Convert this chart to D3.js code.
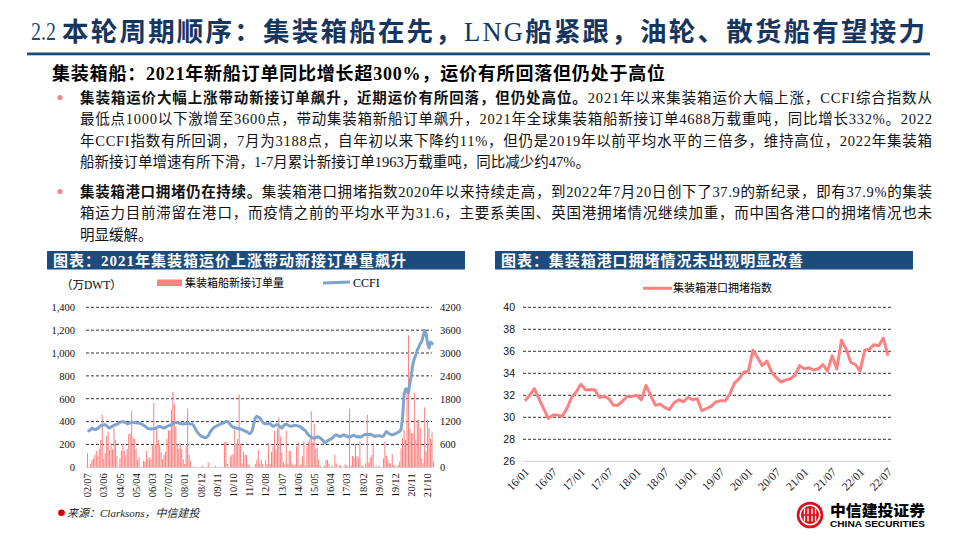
<!DOCTYPE html>
<html>
<head>
<meta charset="utf-8">
<script src="https://cdn.jsdelivr.net/npm/d3@7"></script>
<style>
  body { margin: 0; background: #fff; }
  svg { display: block; }
</style>
</head>
<body>
<svg id="page" width="960" height="540"></svg>
<script>
// ---- data ----
// monthly new container ship orders, 10k DWT, from 2002/07
var orderValues = [
  123, 0, 29, 65, 76, 109, 144, 100, 161, 240, 461, 73,
  123, 276, 314, 153, 211, 158, 343, 240, 100, 0, 79, 144,
  202, 144, 109, 161, 293, 293, 496, 258, 249, 161, 65, 88,
  0, 0, 56, 50, 144, 73, 88, 70, 191, 563, 202, 335,
  240, 197, 132, 70, 109, 138, 249, 323, 320, 505, 660, 555,
  349, 202, 161, 211, 161, 70, 29, 182, 514, 109, 56, 6,
  0, 0, 0, 0, 0, 0, 15, 0, 0, 0, 44, 0,
  0, 0, 0, 12, 0, 0, 0, 0, 0, 220, 220, 29,
  0, 94, 109, 117, 329, 202, 247, 637, 205, 35, 132, 109,
  109, 29, 15, 0, 0, 0, 29, 65, 153, 29, 65, 29,
  0, 65, 29, 211, 29, 132, 182, 320, 153, 343, 437, 270,
  129, 50, 26, 320, 35, 144, 144, 35, 15, 26, 182, 226,
  15, 26, 94, 226, 15, 182, 226, 250, 490, 220, 380, 160,
  173, 70, 15, 0, 0, 15, 65, 65, 35, 0, 15, 0,
  109, 35, 0, 15, 20, 0, 0, 26, 15, 0, 514, 15,
  100, 85, 202, 100, 85, 226, 15, 15, 0, 35, 461, 41,
  85, 109, 197, 0, 15, 0, 15, 0, 0, 79, 226, 100,
  65, 35, 35, 117, 20, 15, 0, 20, 50, 167, 255, 329,
  240, 687, 1156, 338, 299, 299, 652, 240, 417, 417, 343, 79,
  35, 525, 138, 417, 343, 250, 305, 50
];

// monthly CCFI, same months
var ccfiValues = [
  940, 960, 990, 1030, 1010, 990, 1000, 1020, 1060, 1090, 1100, 1110,
  1120, 1090, 1050, 1030, 1060, 1080, 1100, 1120, 1130, 1150, 1180, 1195,
  1197, 1190, 1170, 1145, 1150, 1170, 1180, 1180, 1175, 1165, 1160, 1160,
  1150, 1130, 1100, 1080, 1050, 1020, 1010, 1005, 1010, 1015, 1020, 1040,
  1060, 1075, 1060, 1040, 1030, 1050, 1070, 1090, 1100, 1120, 1150, 1170,
  1180, 1170, 1160, 1150, 1140, 1135, 1140, 1150, 1150, 1145, 1140, 1135,
  1100, 1030, 960, 900, 860, 825, 800, 790, 780, 790, 830, 900,
  967, 1010, 1050, 1070, 1090, 1110, 1130, 1145, 1160, 1180, 1200, 1205,
  1180, 1120, 1075, 1050, 1040, 1030, 1020, 1010, 1005, 990, 970, 950,
  940, 910, 880, 900, 990, 1150, 1300, 1337, 1320, 1295, 1240, 1190,
  1150, 1140, 1145, 1150, 1145, 1110, 1075, 1090, 1110, 1120, 1090, 1060,
  1030, 1080, 1120, 1135, 1110, 1090, 1075, 1085, 1095, 1100, 1095, 1085,
  1075, 1050, 1020, 990, 960, 900, 853, 820, 790, 770, 765, 780,
  800, 790, 770, 740, 700, 650, 660, 690, 720, 740, 760, 790,
  840, 853, 830, 815, 810, 830, 850, 840, 820, 800, 792, 810,
  830, 840, 820, 800, 810, 790, 800, 830, 850, 860, 868, 860,
  868, 850, 830, 810, 820, 825, 830, 820, 810, 820, 880, 940,
  910, 880, 860, 850, 860, 880, 900, 920, 940, 1000, 1300, 1900,
  2050, 2060, 1950, 2200, 2450, 2700, 2850, 2950, 3080, 3150, 3250, 3300,
  3450, 3590, 3500, 3250, 3130, 3290, 3250, 3230
];

var leftTickLabels = ["02/07", "03/06", "04/05", "05/04", "06/03", "07/02", "08/01", "08/12",
  "09/11", "10/10", "11/09", "12/08", "13/07", "14/06", "15/05", "16/04", "17/03", "18/02",
  "19/01", "19/12", "20/11", "21/10"];
var leftAxisTicks = [0, 200, 400, 600, 800, 1000, 1200, 1400];
var rightAxisTicks = [0, 600, 1200, 1800, 2400, 3000, 3600, 4200];

// container port congestion index, monthly from 2016/01
var congestion = [
  31.5, 32.0, 32.6, 31.7, 30.8, 29.9, 30.2, 30.2, 30.1, 30.8,
  31.8, 32.3, 33.0, 32.5, 32.5, 32.5, 31.8, 31.9, 31.7, 31.1,
  31.1, 31.5, 31.9, 31.9, 32.0, 31.6, 32.9, 32.0, 31.1, 31.2,
  30.9, 30.7, 31.3, 31.6, 31.4, 31.8, 31.6, 31.7, 30.6, 30.8,
  31.0, 31.4, 31.5, 31.5, 32.1, 33.1, 33.5, 34.1, 34.2, 36.1,
  35.4, 34.7, 35.1, 34.1, 33.6, 33.2, 33.4, 33.5, 33.8, 34.7,
  34.4, 34.5, 34.3, 34.4, 34.8, 34.2, 35.6, 34.4, 37.0, 36.2,
  35.0, 34.8, 34.2, 36.1, 36.2, 36.6, 36.5, 37.2, 35.6
];
var congTickLabels = ["16/01", "16/07", "17/01", "17/07", "18/01", "18/07", "19/01",
  "19/07", "20/01", "20/07", "21/01", "21/07", "22/01", "22/07"];
var congAxisTicks = [26, 28, 30, 32, 34, 36, 38, 40];

// ---- helpers ----
function monthLabels(year, month, count) {
  var out = [];
  for (var i = 0; i < count; i++) {
    var y = year + Math.floor((month - 1 + i) / 12);
    var m = (month - 1 + i) % 12 + 1;
    out.push(String(y % 100).padStart(2, "0") + "/" + String(m).padStart(2, "0"));
  }
  return out;
}

var NAVY = "#1d4c7c";
var BAR = "#ff8080";
var CCFI_BLUE = "#7fa4cd";
var SERIF = "'Liberation Serif','Noto Sans CJK SC',serif";
var SANS = "'Noto Sans CJK SC','Liberation Sans',sans-serif";

var svg = d3.select("#page");

// ---- page title ----
svg.append("text")
  .attr("x", 31).attr("y", 40)
  .attr("textLength", 25).attr("lengthAdjust", "spacingAndGlyphs")
  .style("font-family", SERIF).style("font-size", "26px")
  .style("fill", NAVY)
  .text("2.2");

var title = svg.append("text")
  .attr("x", 62).attr("y", 40.5)
  .attr("textLength", 863).attr("lengthAdjust", "spacing")
  .style("font-family", SANS).style("font-size", "26.5px").style("font-weight", "700")
  .style("fill", "#17365f");
title.append("tspan").text("本轮周期顺序：集装箱船在先，");
title.append("tspan").style("font-family", SERIF).style("font-weight", "400").text("LNG");
title.append("tspan").text("船紧跟，油轮、散货船有望接力");

svg.append("rect")
  .attr("x", 27).attr("y", 52.5).attr("width", 903).attr("height", 2.8)
  .style("fill", NAVY);

// ---- subtitle and body text ----
svg.append("text")
  .attr("x", 52).attr("y", 80)
  .attr("textLength", 613).attr("lengthAdjust", "spacing")
  .style("font-family", SERIF).style("font-size", "18px").style("font-weight", "700")
  .text("集装箱船：2021年新船订单同比增长超300%，运价有所回落但仍处于高位");

var para1 = [
  [["集装箱运价大幅上涨带动新接订单飙升，近期运价有所回落，但仍处高位。", true], ["2021年以来集装箱运价大幅上涨，CCFI综合指数从", false]],
  [["最低点1000以下激增至3600点，带动集装箱新船订单飙升，2021年全球集装箱船新接订单4688万载重吨，同比增长332%。2022", false]],
  [["年CCFI指数有所回调，7月为3188点，自年初以来下降约11%，但仍是2019年以前平均水平的三倍多，维持高位，2022年集装箱", false]],
  [["船新接订单增速有所下滑，1-7月累计新接订单1963万载重吨，同比减少约47%。", false]]
];
var para2 = [
  [["集装箱港口拥堵仍在持续。", true], ["集装箱港口拥堵指数2020年以来持续走高，到2022年7月20日创下了37.9的新纪录，即有37.9%的集装", false]],
  [["箱运力目前滞留在港口，而疫情之前的平均水平为31.6，主要系美国、英国港拥堵情况继续加重，而中国各港口的拥堵情况也未", false]],
  [["明显缓解。", false]]
];

function drawParagraph(lines, top) {
  svg.append("circle").attr("cx", 60).attr("cy", top - 5).attr("r", 2.6).style("fill", "#f08a8a");
  lines.forEach(function (parts, i) {
    var t = svg.append("text")
      .attr("x", 80).attr("y", top + i * 21.5)
      .style("font-family", SERIF).style("font-size", "14.5px").style("fill", "#111");
    if (i < lines.length - 1) {
      t.attr("textLength", 852).attr("lengthAdjust", "spacing");
    }
    parts.forEach(function (p) {
      t.append("tspan").style("font-weight", p[1] ? "700" : "400").text(p[0]);
    });
  });
}
drawParagraph(para1, 102.5);
drawParagraph(para2, 196.5);

// ---- chart headers ----
function header(x, w, label) {
  svg.append("rect").attr("x", x).attr("y", 251).attr("width", w).attr("height", 18.5).style("fill", NAVY);
  svg.append("text")
    .attr("x", x + 6).attr("y", 265.5)
    .attr("textLength", label.len).attr("lengthAdjust", "spacing")
    .style("font-family", SERIF).style("font-size", "15px").style("font-weight", "700")
    .style("fill", "#fff")
    .text(label.text);
}
header(47, 418, { text: "图表：2021年集装箱运价上涨带动新接订单量飙升", len: 353 });
header(495, 418, { text: "图表：集装箱港口拥堵情况未出现明显改善", len: 302 });

// ---- left chart: orders (bars) + CCFI (line) ----
var monthsL = monthLabels(2002, 7, orderValues.length);
var left = svg.append("g");

var xL = d3.scaleBand().domain(monthsL).range([87, 434]).paddingInner(0.3).paddingOuter(0);
var yL = d3.scaleLinear().domain([0, 1400]).range([467.3, 307.3]);
var yR = d3.scaleLinear().domain([0, 4200]).range([467.3, 307.3]);

left.selectAll("line.grid")
  .data(leftAxisTicks.filter(function (d) { return d > 0; }))
  .enter().append("line")
  .attr("class", "grid")
  .attr("x1", 86).attr("x2", 432)
  .attr("y1", function (d) { return yL(d); }).attr("y2", function (d) { return yL(d); })
  .style("stroke", "#000").style("stroke-width", 0.8).style("stroke-dasharray", "3,2");

left.append("line")
  .attr("x1", 86).attr("x2", 432).attr("y1", yL(0)).attr("y2", yL(0))
  .style("stroke", "#d0d0d0").style("stroke-width", 1);

left.selectAll("rect.bar")
  .data(orderValues)
  .enter().append("rect")
  .attr("class", "bar")
  .attr("x", function (d, i) { return xL(monthsL[i]); })
  .attr("width", xL.bandwidth())
  .attr("y", function (d) { return yL(d); })
  .attr("height", function (d) { return yL(0) - yL(d); })
  .style("fill", BAR);

var ccfiLine = d3.line()
  .x(function (d, i) { return xL(monthsL[i]) + xL.bandwidth() / 2; })
  .y(function (d) { return yR(d); });

left.append("path")
  .datum(ccfiValues)
  .attr("d", ccfiLine)
  .style("fill", "none").style("stroke", CCFI_BLUE).style("stroke-width", 3)
  .style("stroke-linejoin", "round");

var axL = left.append("g")
  .attr("transform", "translate(86,0)")
  .call(d3.axisLeft(yL).tickValues(leftAxisTicks).tickFormat(d3.format(",")).tickSize(0).tickPadding(11));
var axR = left.append("g")
  .attr("transform", "translate(432,0)")
  .call(d3.axisRight(yR).tickValues(rightAxisTicks).tickFormat(d3.format("d")).tickSize(0).tickPadding(8));
var axB = left.append("g")
  .attr("transform", "translate(0," + yL(0) + ")")
  .call(d3.axisBottom(xL).tickValues(leftTickLabels).tickSize(0));
axB.selectAll("text")
  .attr("transform", "rotate(-90)")
  .attr("x", -6).attr("y", 0).attr("dy", "0.35em")
  .style("text-anchor", "end");

[axL, axR, axB].forEach(function (a) {
  a.select(".domain").remove();
  a.selectAll("text").style("font-family", SERIF).style("font-size", "10.5px").style("fill", "#111");
});

// legend + unit
left.append("text").attr("x", 61).attr("y", 289)
  .style("font-family", SERIF).style("font-size", "11.5px").text("（万DWT）");
left.append("rect").attr("x", 157).attr("y", 279.5).attr("width", 25).attr("height", 6.5).style("fill", BAR);
left.append("text").attr("x", 185).attr("y", 287)
  .style("font-family", SANS).style("font-size", "11px").text("集装箱船新接订单量");
left.append("line").attr("x1", 323).attr("x2", 350).attr("y1", 283).attr("y2", 282)
  .style("stroke", CCFI_BLUE).style("stroke-width", 3);
left.append("text").attr("x", 353).attr("y", 287)
  .style("font-family", SERIF).style("font-size", "12px").text("CCFI");

// source
svg.append("circle").attr("cx", 61.5).attr("cy", 512.7).attr("r", 3.3).style("fill", "#d40000");
svg.append("text").attr("x", 67).attr("y", 517)
  .style("font-family", SERIF).style("font-size", "11px").style("font-style", "italic").style("fill", "#222")
  .text("来源：Clarksons，中信建投");

// ---- right chart: port congestion ----
var monthsR = monthLabels(2016, 1, congestion.length);
var right = svg.append("g");

var xP = d3.scalePoint().domain(monthsR).range([525, 888]);
var yP = d3.scaleLinear().domain([26, 40]).range([461.3, 307.3]);

right.selectAll("line.grid")
  .data(congAxisTicks.filter(function (d) { return d > 26; }))
  .enter().append("line")
  .attr("class", "grid")
  .attr("x1", 523).attr("x2", 891)
  .attr("y1", function (d) { return yP(d); }).attr("y2", function (d) { return yP(d); })
  .style("stroke", "#000").style("stroke-width", 0.8).style("stroke-dasharray", "3,2");
right.append("line")
  .attr("x1", 523).attr("x2", 891).attr("y1", yP(26)).attr("y2", yP(26))
  .style("stroke", "#d0d0d0").style("stroke-width", 1);

right.append("path")
  .datum(congestion)
  .attr("d", d3.line()
    .x(function (d, i) { return xP(monthsR[i]); })
    .y(function (d) { return yP(d); }))
  .style("fill", "none").style("stroke", BAR).style("stroke-width", 3)
  .style("stroke-linejoin", "round");

var axP = right.append("g")
  .attr("transform", "translate(523,0)")
  .call(d3.axisLeft(yP).tickValues(congAxisTicks).tickSize(0).tickPadding(8));
axP.selectAll("text").style("font-family", "'Liberation Sans',sans-serif").style("font-size", "10.5px");

var axPB = right.append("g")
  .attr("transform", "translate(0," + yP(26) + ")")
  .call(d3.axisBottom(xP).tickValues(congTickLabels).tickSize(0));
axPB.selectAll("text")
  .attr("x", 0).attr("y", 0).attr("dy", "0.3em")
  .attr("transform", "translate(2,9) rotate(-45)")
  .style("text-anchor", "end")
  .style("font-family", SERIF).style("font-size", "11.5px");
[axP, axPB].forEach(function (a) { a.select(".domain").remove(); a.selectAll("text").style("fill", "#111"); });

right.append("line").attr("x1", 643).attr("x2", 672).attr("y1", 288.3).attr("y2", 288.3)
  .style("stroke", BAR).style("stroke-width", 3);
right.append("text").attr("x", 673).attr("y", 292)
  .style("font-family", SANS).style("font-size", "11px").text("集装箱港口拥堵指数");

// ---- logo ----
var logo = svg.append("g").attr("transform", "translate(810,515)");
logo.append("circle").attr("r", 13.3).style("fill", "#d9121b");
logo.append("circle").attr("r", 9.8).style("fill", "none").style("stroke", "#fff").style("stroke-width", 1.6);
[-5.5, -2, 2, 5.5].forEach(function (dx) {
  logo.append("rect").attr("x", dx - 0.7).attr("y", -6.5).attr("width", 1.4).attr("height", 13).style("fill", "#fff");
});
logo.append("rect").attr("x", -8).attr("y", -0.8).attr("width", 16).attr("height", 1.6).style("fill", "#d9121b");
svg.append("text").attr("x", 830).attr("y", 515.5)
  .attr("textLength", 95).attr("lengthAdjust", "spacingAndGlyphs")
  .style("font-family", SANS).style("font-size", "15px").style("font-weight", "900")
  .text("中信建投证券");
svg.append("text").attr("x", 830).attr("y", 527)
  .attr("textLength", 95).attr("lengthAdjust", "spacingAndGlyphs")
  .style("font-family", "'Liberation Sans',sans-serif").style("font-size", "8.8px").style("font-weight", "700")
  .text("CHINA SECURITIES");
</script>
</body>
</html>
